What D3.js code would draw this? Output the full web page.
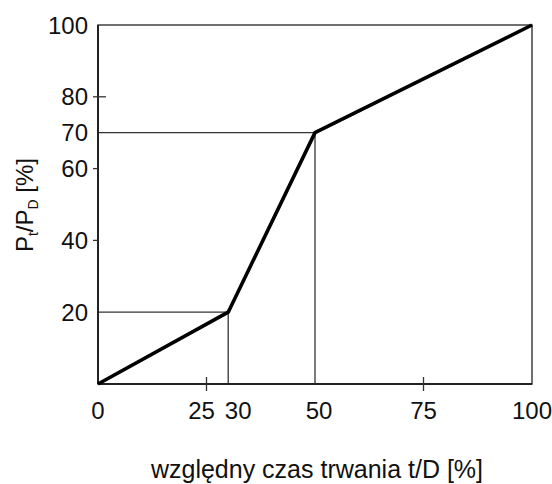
<!DOCTYPE html>
<html>
<head>
<meta charset="utf-8">
<script src="https://cdn.jsdelivr.net/npm/d3@7"></script>
<style>
  body { margin: 0; background: #fff; }
  text { font-family: "Liberation Sans", Arial, sans-serif; fill: #111; }
</style>
</head>
<body>
<div id="chart"></div>
<script>
// curve points: relative duration t/D [%] vs Pt/PD [%]
const durationPct = [0, 30, 50, 100];
const powerPct = [0, 20, 70, 100];

// axis labels
const xTickLabels = [0, 25, 30, 50, 75, 100];
const yTickLabels = [20, 40, 60, 70, 80, 100];
// small tick marks (no guide line)
const xTickMarks = [25, 75];
const yTickMarks = [40, 60, 80];

const width = 552, height = 484;
const margin = { top: 25, right: 20, bottom: 100, left: 98 };

const x = d3.scaleLinear().domain([0, 100]).range([margin.left, width - margin.right]);
const y = d3.scaleLinear().domain([0, 100]).range([height - margin.bottom, margin.top]);

const svg = d3.select("#chart")
  .append("svg")
  .attr("width", width)
  .attr("height", height);

const points = durationPct.map((d, i) => ({ x: d, y: powerPct[i] }));

// guide lines from the break points
const breaks = points.slice(1, 3);
breaks.forEach((p) => {
  svg.append("line")
    .attr("x1", x(0)).attr("x2", x(p.x))
    .attr("y1", y(p.y)).attr("y2", y(p.y))
    .attr("stroke", "#333").attr("stroke-width", 1.3);
  svg.append("line")
    .attr("x1", x(p.x)).attr("x2", x(p.x))
    .attr("y1", y(0)).attr("y2", y(p.y))
    .attr("stroke", "#333").attr("stroke-width", 1.3);
});

// frame
svg.append("rect")
  .attr("x", x(0)).attr("y", y(100))
  .attr("width", x(100) - x(0)).attr("height", y(0) - y(100))
  .attr("fill", "none").attr("stroke", "#333").attr("stroke-width", 1.4);
svg.append("line")
  .attr("x1", x(0)).attr("x2", x(100))
  .attr("y1", y(0)).attr("y2", y(0))
  .attr("stroke", "#222").attr("stroke-width", 2);
svg.append("line")
  .attr("x1", x(0)).attr("x2", x(0))
  .attr("y1", y(0)).attr("y2", y(100))
  .attr("stroke", "#222").attr("stroke-width", 2);

// tick marks
svg.append("g")
  .selectAll("line")
  .data(xTickMarks)
  .enter()
  .append("line")
  .attr("x1", (d) => x(d)).attr("x2", (d) => x(d))
  .attr("y1", y(0) - 7).attr("y2", y(0) + 7)
  .attr("stroke", "#333").attr("stroke-width", 1.3);

svg.append("g")
  .selectAll("line")
  .data(yTickMarks)
  .enter()
  .append("line")
  .attr("x1", x(0) - 5).attr("x2", (d) => d === 80 ? x(0) + 8 : x(0))
  .attr("y1", (d) => y(d)).attr("y2", (d) => y(d))
  .attr("stroke", "#333").attr("stroke-width", 1.3);

// tick labels (25 and 30 nudged apart so they don't collide)
const xNudge = { 25: -5, 30: 10, 50: 4 };
svg.append("g")
  .selectAll("text")
  .data(xTickLabels)
  .enter()
  .append("text")
  .attr("x", (d) => x(d) + (xNudge[d] || 0))
  .attr("y", y(0) + 35)
  .attr("text-anchor", "middle")
  .attr("font-size", 24)
  .text((d) => d);

svg.append("g")
  .selectAll("text")
  .data(yTickLabels)
  .enter()
  .append("text")
  .attr("x", x(0) - 10)
  .attr("y", (d) => y(d) + 8.5)
  .attr("text-anchor", "end")
  .attr("font-size", 24)
  .text((d) => d);

// curve
svg.append("path")
  .datum(points)
  .attr("fill", "none")
  .attr("stroke", "#000")
  .attr("stroke-width", 3.6)
  .attr("stroke-linejoin", "miter")
  .attr("d", d3.line().x((d) => x(d.x)).y((d) => y(d.y)));

// axis titles
svg.append("text")
  .attr("x", 317)
  .attr("y", 478)
  .attr("text-anchor", "middle")
  .attr("font-size", 25)
  .text("względny czas trwania t/D [%]");

const yTitle = svg.append("text")
  .attr("transform", "translate(33,205) rotate(-90)")
  .attr("text-anchor", "middle")
  .attr("font-size", 24);
yTitle.append("tspan").text("P");
yTitle.append("tspan").attr("font-size", 14).attr("dy", 5).text("t");
yTitle.append("tspan").attr("dy", -5).text("/P");
yTitle.append("tspan").attr("font-size", 14).attr("dy", 5).text("D");
yTitle.append("tspan").attr("dy", -5).text(" [%]");
</script>
</body>
</html>
